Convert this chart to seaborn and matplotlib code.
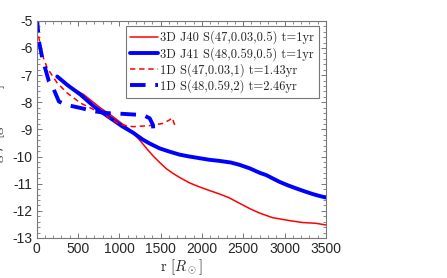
import matplotlib
matplotlib.use("Agg")
import matplotlib.pyplot as plt
import seaborn as sns
from matplotlib.ticker import MultipleLocator, AutoMinorLocator

# 3D J40 S(47,0.03,0.5), t=1yr
r_j40 = [249, 370, 571, 772, 893, 1013, 1090, 1166, 1248, 1330, 1410, 1489,
         1570, 1650, 1730, 1850, 1971, 2100, 2213, 2330, 2454, 2580, 2696,
         2853, 3059, 3216, 3380, 3500]
rho_j40 = [-7.08, -7.38, -7.72, -8.21, -8.46, -8.74, -8.92, -9.12, -9.4, -9.7,
           -9.98, -10.22, -10.45, -10.62, -10.77, -10.97, -11.12, -11.26, -11.38,
           -11.52, -11.72, -11.92, -12.08, -12.25, -12.36, -12.43, -12.46, -12.52]

# 3D J41 S(48,0.59,0.5), t=1yr
r_j41 = [249, 370, 531, 692, 852, 1033, 1166, 1287, 1368, 1489, 1609, 1730,
         1851, 1971, 2092, 2213, 2350, 2450, 2575, 2700, 2776, 2937, 3040,
         3138, 3240, 3339, 3420, 3500]
rho_j41 = [-7.05, -7.36, -7.72, -8.15, -8.5, -8.88, -9.12, -9.38, -9.52, -9.7,
           -9.82, -9.93, -10.0, -10.06, -10.12, -10.16, -10.22, -10.3, -10.43,
           -10.6, -10.68, -10.93, -11.06, -11.17, -11.28, -11.38, -11.45, -11.51]

# 1D S(47,0.03,1), t=1.43yr
r_1d47 = [0, 7, 28, 68, 128, 249, 370, 531, 692, 852, 1005, 1166, 1368, 1528,
          1609, 1640, 1680]
rho_1d47 = [-4.9, -5.15, -5.64, -6.25, -6.74, -7.29, -7.66, -8.03, -8.27, -8.52,
            -8.82, -8.9, -8.86, -8.78, -8.65, -8.57, -8.92]

# 1D S(48,0.59,2), t=2.46yr
r_1d48 = [0, 7, 28, 68, 148, 209, 269, 350, 531, 692, 852, 1006, 1166, 1287,
          1368, 1408, 1412]
rho_1d48 = [-4.85, -5.02, -5.76, -6.37, -7.23, -7.54, -7.97, -8.09, -8.21, -8.33,
            -8.4, -8.42, -8.45, -8.47, -8.59, -8.84, -9.1]

labels = ["3D J40 S(47,0.03,0.5) t=1yr", "3D J41 S(48,0.59,0.5) t=1yr",
          "1D S(47,0.03,1) t=1.43yr", "1D S(48,0.59,2) t=2.46yr"]

sns.set_style("ticks")
plt.rcParams["font.family"] = ["Liberation Sans", "DejaVu Sans"]
plt.rcParams["mathtext.fontset"] = "cm"
plt.rcParams["axes.unicode_minus"] = False

fig = plt.figure(figsize=(4.47, 2.78), dpi=100)
ax = fig.add_axes([0.082, 0.144, 0.647, 0.781])

sns.lineplot(x=r_j40, y=rho_j40, ax=ax, color="#ff0000", linewidth=1.1,
             sort=False, estimator=None, label=labels[0])
sns.lineplot(x=r_j41, y=rho_j41, ax=ax, color="#0000ff", linewidth=2.8,
             sort=False, estimator=None, label=labels[1])
sns.lineplot(x=r_1d47, y=rho_1d47, ax=ax, color="#ff0000", linewidth=1.1,
             sort=False, estimator=None, label=labels[2])
sns.lineplot(x=r_1d48, y=rho_1d48, ax=ax, color="#0000ff", linewidth=2.8,
             sort=False, estimator=None, label=labels[3])
for ln, ls in zip(ax.get_lines(), ["-", "-", (0, (3.5, 2.5)), (0, (4, 2.5))]):
    ln.set_linestyle(ls)
    ln.set_solid_joinstyle("round")

ax.set_xlim(0, 3500)
ax.set_ylim(-13, -5)
ax.xaxis.set_major_locator(MultipleLocator(500))
ax.yaxis.set_major_locator(MultipleLocator(1))
ax.xaxis.set_minor_locator(AutoMinorLocator(5))
ax.yaxis.set_minor_locator(AutoMinorLocator(5))
ax.tick_params(which="both", direction="in", top=True, right=True, color="#777777")
ax.tick_params(which="major", length=3.5, width=0.7, labelsize=10, pad=3)
ax.tick_params(which="minor", length=2, width=0.6)
for sp in ax.spines.values():
    sp.set_color("#777777")
    sp.set_linewidth(0.8)

ax.set_xlabel(r"r [$R_\odot$]", family="cmr10", fontsize=10.5, labelpad=1)
ax.set_ylabel(r"log $\rho$ [g cm$^{-3}$]", family="cmr10", fontsize=10.5)
ax.yaxis.set_label_coords(-0.098, 0.5)

leg = ax.legend(loc="upper right", bbox_to_anchor=(0.975, 0.975), borderaxespad=0,
                prop={"family": "cmr10", "size": 9}, handlelength=2.2,
                handletextpad=0.2, labelspacing=0.2, borderpad=0.35,
                fancybox=False, framealpha=1)
leg.get_frame().set_edgecolor("#777777")
leg.get_frame().set_linewidth(0.8)

fig.savefig("out.png", dpi=100)
